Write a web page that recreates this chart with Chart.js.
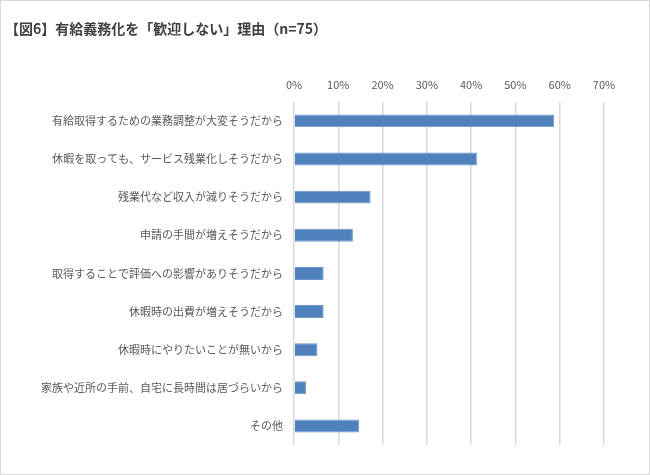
<!DOCTYPE html>
<html lang="ja">
  <head>
    <meta charset="UTF-8" />
    <title>有給義務化を「歓迎しない」理由</title>
    <style>
      html, body {
        margin: 0;
        padding: 0;
        background: #ffffff;
      }
      .frame {
        width: 650px;
        height: 475px;
        box-sizing: border-box;
        border: 1px solid #d9d9d9;
        position: relative;
      }
      .frame canvas {
        display: block;
      }
    </style>
  </head>
  <body>
    <div class="frame">
      <canvas id="reasonChart" width="648" height="473"></canvas>
    </div>

    <script src="https://cdn.jsdelivr.net/npm/chart.js"></script>
    <script>
      // data (percent of n=75)
      const reasons = [
        "有給取得するための業務調整が大変そうだから",
        "休暇を取っても、サービス残業化しそうだから",
        "残業代など収入が減りそうだから",
        "申請の手間が増えそうだから",
        "取得することで評価への影響がありそうだから",
        "休暇時の出費が増えそうだから",
        "休暇時にやりたいことが無いから",
        "家族や近所の手前、自宅に長時間は居づらいから",
        "その他",
      ];
      const shares = [58.7, 41.3, 17.3, 13.3, 6.7, 6.7, 5.3, 2.7, 14.7];
      const tickValues = [0, 10, 20, 30, 40, 50, 60, 70];

      const font = "'Noto Sans CJK JP', 'Noto Sans', sans-serif";

      const ctx = document.getElementById("reasonChart").getContext("2d");
      new Chart(ctx, {
        type: "bar",
        data: {
          labels: reasons,
          datasets: [
            {
              label: "割合",
              data: shares,
              backgroundColor: "#4f81bd",
              borderColor: "#6f97c9",
              borderWidth: 1,
              categoryPercentage: 1,
              barPercentage: 0.34,
            },
          ],
        },
        options: {
          indexAxis: "y",
          responsive: false,
          animation: false,
          layout: {
            padding: { left: 4, right: 45, top: 0, bottom: 29 },
          },
          plugins: {
            legend: { display: false },
            tooltip: { enabled: false },
            title: {
              display: true,
              text: "【図6】有給義務化を「歓迎しない」理由（n=75）",
              align: "start",
              color: "#404040",
              font: { family: font, size: 14, weight: "bold" },
              padding: { top: 19, bottom: 35 },
            },
          },
          scales: {
            x: {
              position: "top",
              min: 0,
              max: 70,
              afterBuildTicks: (scale) => {
                scale.ticks = tickValues.map((v) => ({ value: v }));
              },
              afterFit: (scale) => {
                scale.height = 30;
              },
              grid: {
                color: "#d9d9d9",
                lineWidth: 1.5,
                drawTicks: false,
              },
              border: { display: false },
              ticks: {
                padding: 10,
                color: "#595959",
                font: { family: font, size: 11 },
                callback: (v) => v + "%",
              },
            },
            y: {
              afterFit: (scale) => {
                scale.width = 289;
              },
              grid: { display: false, drawTicks: false },
              border: { display: false },
              ticks: {
                padding: 11,
                color: "#595959",
                font: { family: font, size: 11 },
              },
            },
          },
        },
      });
    </script>
  </body>
</html>
